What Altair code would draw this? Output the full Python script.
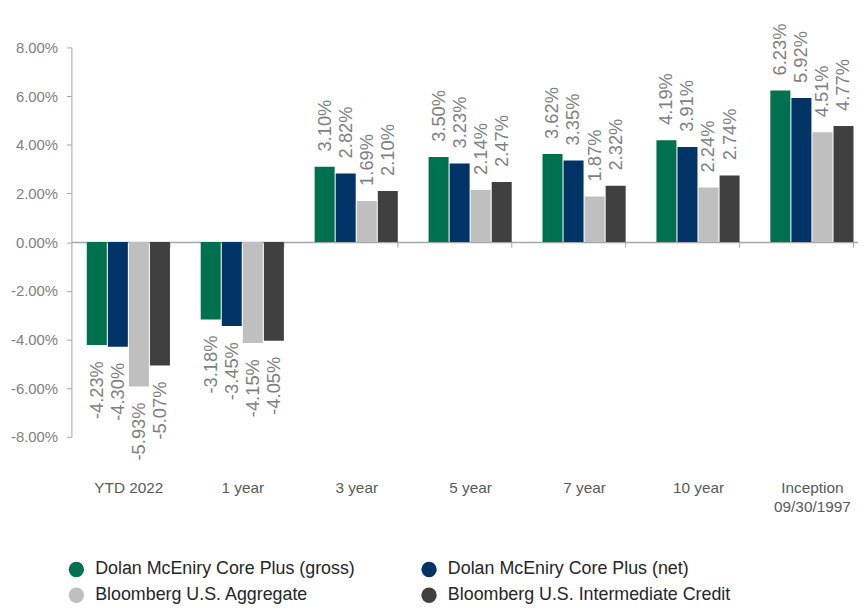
import altair as alt
import pandas as pd

FONT = "Liberation Sans, Arial, sans-serif"

categories = ["YTD 2022", "1 year", "3 year", "5 year", "7 year", "10 year", "Inception|09/30/1997"]
series_names = [
    "Dolan McEniry Core Plus (gross)",
    "Dolan McEniry Core Plus (net)",
    "Bloomberg U.S. Aggregate",
    "Bloomberg U.S. Intermediate Credit",
]
gross = [-4.23, -3.18, 3.10, 3.50, 3.62, 4.19, 6.23]
net = [-4.30, -3.45, 2.82, 3.23, 3.35, 3.91, 5.92]
aggregate = [-5.93, -4.15, 1.69, 2.14, 1.87, 2.24, 4.51]
credit = [-5.07, -4.05, 2.10, 2.47, 2.32, 2.74, 4.77]
colors = ["#00714F", "#003366", "#BFBFBF", "#404040"]
y_ticks = [-8, -6, -4, -2, 0, 2, 4, 6, 8]

rows = []
for s, vals in zip(series_names, [gross, net, aggregate, credit]):
    for c, v in zip(categories, vals):
        rows.append({"cat": c, "series": s, "v": v, "label": f"{v:.2f}%"})
df = pd.DataFrame(rows)

x_enc = alt.X(
    "cat:N",
    sort=categories,
    scale=alt.Scale(paddingInner=0.27, paddingOuter=0.135),
    axis=alt.Axis(
        title=None, orient="bottom", offset=-196.5, labelPadding=236, labelAngle=0,
        labelFontSize=15.5, labelColor="#595959", labelFont=FONT,
        labelExpr="split(datum.label, '|')", labelLineHeight=19, labelBaseline="top",
        tickBand="extent", tickSize=5, tickColor="#A6A6A6", domainColor="#A6A6A6",
        domainWidth=1.5,
    ),
)
xo_enc = alt.XOffset("series:N", sort=series_names, scale=alt.Scale(paddingInner=0.05))
y_axis = alt.Axis(
    title=None, values=y_ticks, grid=False, tickSize=5, labelPadding=9,
    labelFontSize=15, labelColor="#7F7F7F", labelFont=FONT,
    labelExpr="replace(format(datum.value, '.2f'), '\u2212', '-') + '%'",
    tickColor="#A6A6A6", domainColor="#A6A6A6",
)
y_scale = alt.Scale(domain=[-8, 8], nice=False)

base = alt.Chart(df)

bars = base.mark_bar().encode(
    x=x_enc,
    xOffset=xo_enc,
    y=alt.Y("v:Q", scale=y_scale, axis=y_axis),
    color=alt.Color(
        "series:N",
        scale=alt.Scale(domain=series_names, range=colors),
        legend=alt.Legend(
            title=None, orient="none", legendX=-4, legendY=518, columns=2,
            direction="horizontal",
            symbolType="circle", symbolSize=240, symbolStrokeWidth=0, symbolOpacity=1,
            labelFontSize=18, labelFont=FONT, labelColor="#262626", labelOffset=10,
            columnPadding=65, rowPadding=8, padding=0, labelLimit=400,
        ),
    ),
)

pos = base.transform_filter("datum.v >= 0").transform_calculate(ly="datum.v + 0.62").mark_text(
    angle=270, align="left", baseline="middle", fontSize=18.5, font=FONT, color="#7F7F7F"
).encode(x=x_enc, xOffset=xo_enc, y=alt.Y("ly:Q", scale=y_scale, axis=y_axis), text="label:N")

neg = base.transform_filter("datum.v < 0").transform_calculate(ly="datum.v - 0.66").mark_text(
    angle=270, align="right", baseline="middle", fontSize=18.5, font=FONT, color="#7F7F7F"
).encode(x=x_enc, xOffset=xo_enc, y=alt.Y("ly:Q", scale=y_scale, axis=y_axis), text="label:N")

chart = alt.layer(bars, pos, neg).properties(
    width=805,
    height=393,
    padding={"left": 64, "top": 37, "right": -11, "bottom": 166},
    autosize=alt.AutoSizeParams(type="none"),
).configure_view(stroke=None)

chart.save("out.html", embed_options={"renderer": "svg", "actions": False})
